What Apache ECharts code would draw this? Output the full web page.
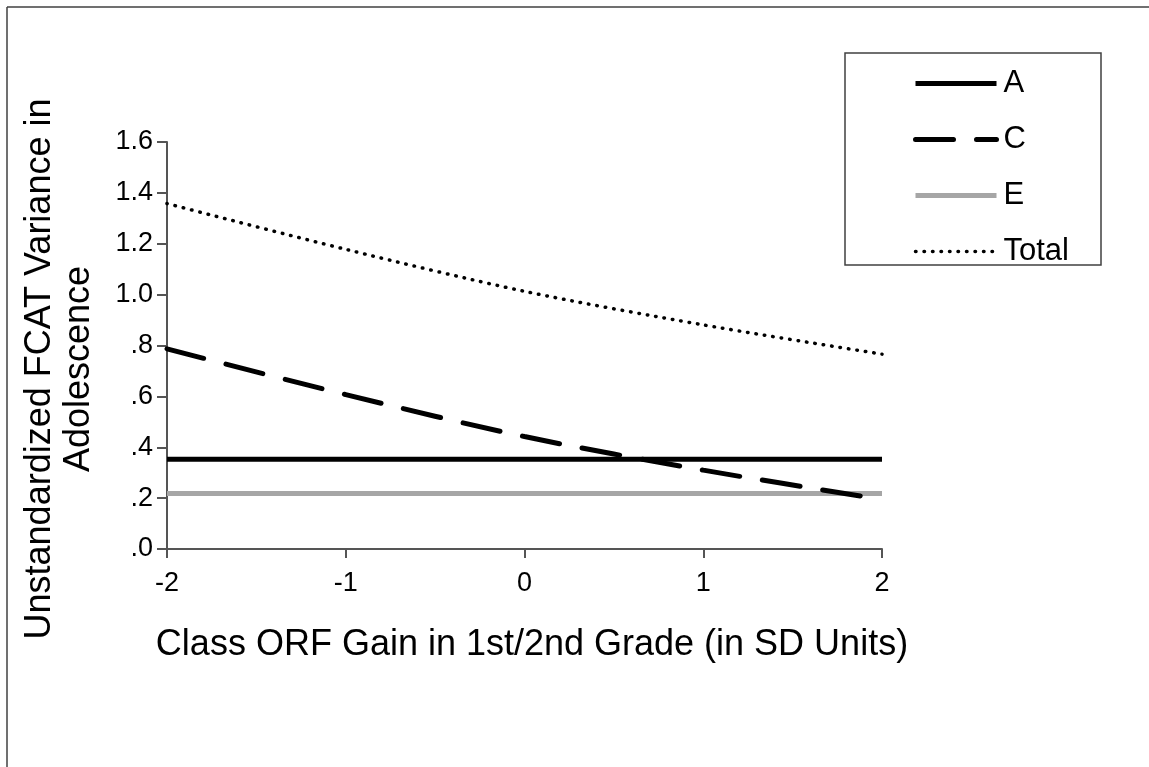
<!DOCTYPE html>
<html>
<head>
<meta charset="utf-8">
<script src="https://cdn.jsdelivr.net/npm/echarts@6/dist/echarts.min.js"></script>
<style>
html,body{margin:0;padding:0;background:#fff;}
#chart{width:1149px;height:767px;}
</style>
</head>
<body>
<div id="chart"></div>
<script>
var xValues = [-2, -1, 0, 1, 2];
var xTickLabels = ['-2', '-1', '0', '1', '2'];
var yTickLabels = ['.0', '.2', '.4', '.6', '.8', '1.0', '1.2', '1.4', '1.6'];
var seriesNames = ['A', 'C', 'E', 'Total'];
var aValues = [0.353, 0.353, 0.353, 0.353, 0.353];
var cValues = [0.787, 0.607, 0.442, 0.310, 0.195];
var eValues = [0.218, 0.218, 0.218, 0.218, 0.218];
var totalValues = [1.358, 1.178, 1.013, 0.881, 0.766];
var xTitle = 'Class ORF Gain in 1st/2nd Grade (in SD Units)';
var yTitleLines = ['Unstandardized FCAT Variance in', 'Adolescence'];

function pairs(vals) { return xValues.map(function (x, i) { return [x, vals[i]]; }); }

var FONT = "'Liberation Sans', Arial, sans-serif";
var styleA = { color: '#000', width: 5, type: 'solid' };
var styleC = { color: '#000', width: 5, type: [38, 23], cap: 'round' };
var styleE = { color: '#a6a6a6', width: 5, type: 'solid' };
var styleT = { color: '#000', width: 3.5, type: [0.5, 8], cap: 'round' };
var styles = [styleA, styleC, styleE, styleT];

var chart = echarts.init(document.getElementById('chart'));
chart.setOption({
  backgroundColor: '#fff',
  animation: false,
  grid: { left: 167, right: 267, top: 142, bottom: 218, containLabel: false },
  xAxis: {
    type: 'value', min: -2, max: 2, interval: 1,
    axisLine: { show: true, onZero: false, lineStyle: { color: '#555', width: 2 } },
    axisTick: { show: true, length: 9, lineStyle: { color: '#555', width: 2 } },
    splitLine: { show: false },
    axisLabel: {
      color: '#000', fontFamily: FONT, fontSize: 27, margin: 21,
      formatter: function (v) { var i = xValues.indexOf(v); return i >= 0 ? xTickLabels[i] : ''; }
    }
  },
  yAxis: {
    type: 'value', min: 0, max: 1.6, interval: 0.2,
    axisLine: { show: true, onZero: false, lineStyle: { color: '#555', width: 2 } },
    axisTick: { show: true, length: 10, lineStyle: { color: '#555', width: 2 } },
    splitLine: { show: false },
    axisLabel: {
      color: '#000', fontFamily: FONT, fontSize: 27, margin: 14,
      formatter: function (v) { var i = Math.round(v / 0.2); return yTickLabels[i]; }
    }
  },
  legend: {
    orient: 'vertical', left: 908, top: 63,
    itemWidth: 81, itemHeight: 20, itemGap: 25,
    itemStyle: { opacity: 0 },
    textStyle: { color: '#000', fontFamily: FONT, fontSize: 31, padding: [0, 0, 0, 2] },
    data: seriesNames.map(function (n, i) {
      return { name: n, lineStyle: { color: styles[i].color, width: styles[i].width, type: styles[i].type, cap: styles[i].cap || 'butt' } };
    })
  },
  graphic: [
    { type: 'line', shape: { x1: 7, y1: 7, x2: 1149, y2: 7 }, style: { stroke: '#404040', lineWidth: 1.5 } },
    { type: 'line', shape: { x1: 7, y1: 7, x2: 7, y2: 767 }, style: { stroke: '#404040', lineWidth: 1.5 } },
    { type: 'rect', shape: { x: 845, y: 53, width: 256, height: 212 }, style: { fill: 'none', stroke: '#404040', lineWidth: 1.5 } },
    { type: 'text', x: 40, y: 369, rotation: Math.PI / 2,
      style: { text: yTitleLines[0], fill: '#000', font: "36px " + FONT, textAlign: 'center', textVerticalAlign: 'middle' } },
    { type: 'text', x: 79, y: 369, rotation: Math.PI / 2,
      style: { text: yTitleLines[1], fill: '#000', font: "36px " + FONT, textAlign: 'center', textVerticalAlign: 'middle' } },
    { type: 'text', x: 532, y: 645,
      style: { text: xTitle, fill: '#000', font: "36px " + FONT, textAlign: 'center', textVerticalAlign: 'middle' } }
  ],
  series: [
    { name: 'A', type: 'line', data: pairs(aValues), symbol: 'none', z: 3,
      lineStyle: styleA, itemStyle: { color: '#000' } },
    { name: 'C', type: 'line', data: pairs(cValues), symbol: 'none', smooth: 0.3, z: 4,
      lineStyle: styleC, itemStyle: { color: '#000' } },
    { name: 'E', type: 'line', data: pairs(eValues), symbol: 'none', z: 2,
      lineStyle: styleE, itemStyle: { color: '#a6a6a6' } },
    { name: 'Total', type: 'line', data: pairs(totalValues), symbol: 'none', smooth: 0.3, z: 3,
      lineStyle: styleT, itemStyle: { color: '#000' } }
  ]
});
</script>
</body>
</html>
